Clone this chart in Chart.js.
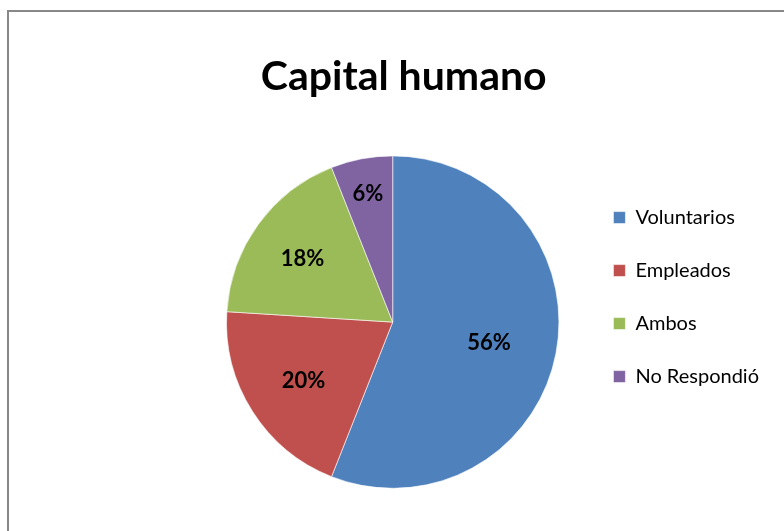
<!DOCTYPE html>
<html>
<head>
<meta charset="utf-8">
<script src="https://cdn.jsdelivr.net/npm/chart.js@4/dist/chart.umd.min.js"></script>
<style>
  html, body { margin: 0; padding: 0; background: #fff; overflow: hidden; }
  #wrap { position: relative; width: 784px; height: 531px; }
  #frame {
    position: absolute; left: 7px; top: 10px; width: 820px; height: 560px;
    border: 2px solid #888888; box-sizing: border-box;
  }
  #pie-canvas { position: absolute; left: 0; top: 0; }
</style>
</head>
<body>
<div id="wrap">
  <div id="frame"></div>
  <canvas id="pie-canvas" width="784" height="531"></canvas>
</div>
<script>
const chart_title = "Capital humano";
const categories = ["Voluntarios", "Empleados", "Ambos", "No Respondió"];
const shares = [56, 20, 18, 6];
const slice_colors = ["#4F81BD", "#C0504D", "#9BBB59", "#8064A2"];

// where each % label sits, as a fraction of the radius
const label_ratios = [0.59, 0.635, 0.67, 0.795];

// moves legend / title after layout so they line up with the original
const nudge = {
  id: "nudge",
  afterLayout: (chart, args, opts) => {
    const lg = chart.legend;
    lg.left += opts.legendX;
    lg.right += opts.legendX;
    lg.top += opts.legendY;
    lg.bottom += opts.legendY;
    const tt = chart.titleBlock;
    tt.left += opts.titleX;
    tt.right += opts.titleX;
  },
};

const sliceLabels = {
  id: "sliceLabels",
  afterDatasetsDraw: (chart, args, opts) => {
    const { ctx } = chart;
    const meta = chart.getDatasetMeta(0);
    const values = chart.data.datasets[0].data;
    ctx.save();
    ctx.font = opts.font;
    ctx.fillStyle = opts.color;
    ctx.textAlign = "center";
    ctx.textBaseline = "middle";
    meta.data.forEach((arc, i) => {
      const { x, y, startAngle, endAngle, outerRadius } = arc.getProps(
        ["x", "y", "startAngle", "endAngle", "outerRadius"],
        true
      );
      const mid = (startAngle + endAngle) / 2;
      const r = outerRadius * opts.ratios[i];
      ctx.fillText(
        `${values[i]}%`,
        x + Math.cos(mid) * r,
        y + Math.sin(mid) * r + opts.dy
      );
    });
    ctx.restore();
  },
};

new Chart(document.getElementById("pie-canvas"), {
  type: "pie",
  data: {
    labels: categories,
    datasets: [
      {
        data: shares,
        backgroundColor: slice_colors,
        borderColor: "rgba(255,255,255,0.6)",
        borderWidth: 1,
      },
    ],
  },
  plugins: [nudge, sliceLabels],
  options: {
    responsive: false,
    devicePixelRatio: 1,
    animation: false,
    layout: {
      padding: { left: 226, right: 36, top: 0, bottom: 42 },
    },
    plugins: {
      title: {
        display: true,
        text: chart_title,
        fullSize: false,
        color: "#000",
        font: { family: "Lato", size: 41, weight: "bold" },
        padding: { top: 52, bottom: 54 },
      },
      legend: {
        position: "right",
        fullSize: false,
        align: "center",
        onClick: () => {},
        labels: {
          color: "#000",
          font: { family: "Lato", size: 20 },
          boxWidth: 12,
          boxHeight: 12,
          padding: 33,
        },
      },
      tooltip: { enabled: false },
      nudge: { legendX: 21, legendY: -25, titleX: 11 },
      sliceLabels: {
        font: "bold 22px Lato",
        color: "#000",
        ratios: label_ratios,
        dy: 2,
      },
    },
  },
});
</script>
</body>
</html>
